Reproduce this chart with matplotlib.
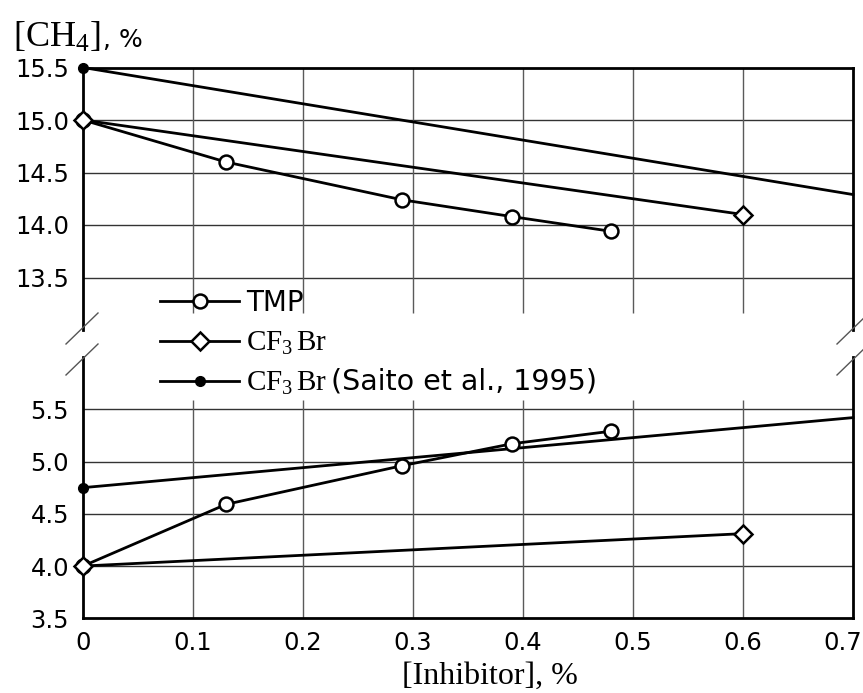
import matplotlib
matplotlib.use('Agg')
import matplotlib.pyplot as plt
from matplotlib.lines import Line2D
from matplotlib.text import Annotation
from matplotlib.transforms import offset_copy

plt.rcParams['font.family'] = ['DejaVu Sans']
plt.rcParams['mathtext.fontset'] = 'custom'
plt.rcParams['mathtext.rm'] = 'Liberation Serif'
plt.rcParams['mathtext.it'] = 'Liberation Serif:italic'
plt.rcParams['mathtext.bf'] = 'Liberation Serif:bold'

# ---------------- data ----------------
x_ticks = [0, 0.1, 0.2, 0.3, 0.4, 0.5, 0.6, 0.7]
x_tick_labels = ['0', '0.1', '0.2', '0.3', '0.4', '0.5', '0.6', '0.7']
upper_ticks = [13.5, 14.0, 14.5, 15.0, 15.5]
lower_ticks = [3.5, 4.0, 4.5, 5.0, 5.5]

tmp_x = [0, 0.13, 0.29, 0.39, 0.48]
tmp_upper = [15.0, 14.60, 14.24, 14.08, 13.94]
tmp_lower = [4.0, 4.59, 4.96, 5.17, 5.29]

cf3br_x = [0, 0.6]
cf3br_upper = [15.0, 14.10]
cf3br_lower = [4.0, 4.31]

saito_x = [0, 0.7]
saito_upper = [15.5, 14.29]
saito_lower = [4.75, 5.42]

labels = ['TMP', r'$\mathrm{CF_3\,Br}$', r'$\mathrm{CF_3\,Br}$']
saito_ref = '(Saito et al., 1995)'

# ---------------- figure ----------------
FW, FH = 863, 693
fig = plt.figure(figsize=(FW / 100, FH / 100), dpi=100)
L = 83 / FW
W = (853 - 83) / FW
ax_top = fig.add_axes([L, 1 - 330 / FH, W, 262.5 / FH])
ax_bot = fig.add_axes([L, 1 - 618.3 / FH, W, 261.3 / FH])

ax_top.set_xlim(0, 0.7)
ax_top.set_ylim(13.0, 15.5)
ax_bot.set_xlim(0, 0.7)
ax_bot.set_ylim(3.5, 6.0)

hgrid = dict(color='#333333', lw=1.0, zorder=1)
vgrid = dict(color='#5a5a5a', lw=1.0, zorder=1)

# grids
ax_top.hlines(upper_ticks[:-1], 0, 0.7, **hgrid)
ax_top.vlines(x_ticks[1:-1], 13.16, 15.5, **vgrid)
ax_bot.hlines(lower_ticks[1:], 0, 0.7, **hgrid)
ax_bot.vlines(x_ticks[1:-1], 3.5, 5.59, **vgrid)

lw = 2.0
styles = [
    dict(marker='o', ms=10, mfc='white', mec='black', mew=1.8, color='black', lw=lw),
    dict(marker='D', ms=9, mfc='white', mec='black', mew=1.8, color='black', lw=lw),
    dict(marker='o', ms=7, mfc='black', mec='black', mew=1, color='black', lw=lw, markevery=[0]),
]

handles = []
for ax, (t, c, s) in [(ax_top, (tmp_upper, cf3br_upper, saito_upper)),
                      (ax_bot, (tmp_lower, cf3br_lower, saito_lower))]:
    h3, = ax.plot(saito_x, s, clip_on=False, zorder=3, **styles[2])
    h1, = ax.plot(tmp_x, t, clip_on=False, zorder=4, **styles[0])
    h2, = ax.plot(cf3br_x, c, clip_on=False, zorder=5, **styles[1])
    if ax is ax_top:
        handles = [h1, h2, h3]

# spines
for ax in (ax_top, ax_bot):
    for sp in ax.spines.values():
        sp.set_linewidth(2.0)
        sp.set_color('black')
ax_top.spines['bottom'].set_visible(False)
ax_bot.spines['top'].set_visible(False)

# ticks
ax_top.set_yticks(upper_ticks)
ax_top.set_yticklabels([f'{v:.1f}' for v in upper_ticks])
ax_bot.set_yticks(lower_ticks)
ax_bot.set_yticklabels([f'{v:.1f}' for v in lower_ticks])
ax_top.set_xticks([])
ax_bot.set_xticks(x_ticks)
ax_bot.set_xticklabels(x_tick_labels)
for ax in (ax_top, ax_bot):
    ax.tick_params(axis='y', length=0, pad=10, labelsize=17.5)
    ax.tick_params(axis='x', length=0, pad=9, labelsize=17.5)
last = ax_bot.get_xticklabels()[-1]
last.set_transform(offset_copy(last.get_transform(), fig=fig, x=-10, y=0, units='dots'))

# break marks
def px_line(x0, y0, x1, y1):
    fig.add_artist(Line2D([x0 / FW, x1 / FW], [1 - y0 / FH, 1 - y1 / FH],
                          transform=fig.transFigure, color='#555555', lw=1.0))

for xs in (82, 853):
    px_line(xs - 16, 344, xs + 16, 313)
    px_line(xs - 16, 375, xs + 16, 344)

# legend
leg = fig.legend(handles, labels, loc='center left', bbox_to_anchor=(160 / FW, 1 - 343 / FH),
                 frameon=False, borderpad=0, borderaxespad=0, handlelength=2.85,
                 handletextpad=0.25, labelspacing=0.42, fontsize=20, numpoints=1)
leg.set_zorder(5)
leg.get_texts()[1].set_fontsize(21)
leg.get_texts()[2].set_fontsize(21)
ann = Annotation(saito_ref, xy=(1, 0), xycoords=leg.get_texts()[2],
                 xytext=(3, 1), textcoords='offset points', fontsize=20.5,
                 ha='left', va='bottom', annotation_clip=False)
ann.set_zorder(10)
fig.add_artist(ann)

# axis labels
fig.text(13 / FW, 1 - 47 / FH, '[CH$_4$]', family='Liberation Serif', fontsize=26, va='baseline')
fig.text(103 / FW, 1 - 47 / FH, ', %', fontsize=18, va='baseline')
fig.text(490 / FW, 1 - 684 / FH, '[Inhibitor], %', family='Liberation Serif', fontsize=23,
         ha='center', va='baseline')

fig.savefig('out.png', dpi=100)
